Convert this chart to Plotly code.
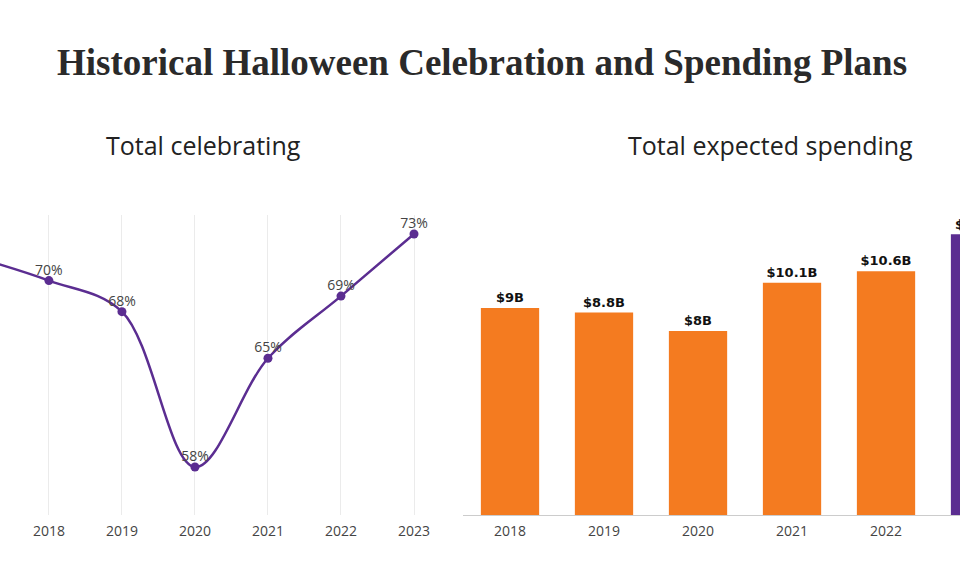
import plotly.graph_objects as go

years_line = [2017, 2018, 2019, 2020, 2021, 2022, 2023]
celebrating = [71.5, 70, 68, 58, 65, 69, 73]
celebrating_labels = ["71.5%", "70%", "68%", "58%", "65%", "69%", "73%"]

years_bar = [2018, 2019, 2020, 2021, 2022, 2023]
spending = [9.0, 8.8, 8.0, 10.1, 10.6, 12.2]
spending_labels = ["$9B", "$8.8B", "$8B", "$10.1B", "$10.6B", "$12.2B"]
bar_colors = ["#f47b20", "#f47b20", "#f47b20", "#f47b20", "#f47b20", "#5b2d91"]

tick_years_left = [2018, 2019, 2020, 2021, 2022, 2023]
tick_years_right = [2018, 2019, 2020, 2021, 2022, 2023]

PURPLE = "#5b2d91"
SANS = "Open Sans"
BAR_FONT = dict(family="DejaVu Sans", size=13, color="#111", weight="bold")

# plot area spans y=215..515 px; paper y for header texts
PLOT_TOP, PLOT_BOT = 215, 515
def py(px):
    return (PLOT_BOT - px) / (PLOT_BOT - PLOT_TOP)

X2_RANGE = [2017.5, 2022.787]

fig = go.Figure()

fig.add_trace(go.Scatter(
    x=years_line, y=celebrating, mode="lines+markers",
    line=dict(color=PURPLE, width=2.5, shape="spline", smoothing=1.0),
    marker=dict(color=PURPLE, size=9),
    cliponaxis=False,
    xaxis="x", yaxis="y", hoverinfo="skip", showlegend=False,
))
# labels only for the years within the visible window
fig.add_trace(go.Scatter(
    x=years_line[1:], y=celebrating[1:], mode="markers+text",
    marker=dict(color=PURPLE, size=2, opacity=0),
    text=celebrating_labels[1:], textposition="top center",
    textfont=dict(family=SANS, size=14, color="#444"),
    cliponaxis=False,
    xaxis="x", yaxis="y", hoverinfo="skip", showlegend=False,
))

fig.add_trace(go.Bar(
    x=years_bar, y=spending, width=0.62,
    marker=dict(color=bar_colors, line=dict(width=0)),
    text=spending_labels, textposition="outside", constraintext="none",
    textfont=BAR_FONT,
    cliponaxis=False,
    xaxis="x2", yaxis="y2", hoverinfo="skip", showlegend=False,
))

# label of the last bar, which sits past the right edge of the axis window
last_frac = (years_bar[-1] - X2_RANGE[0]) / (X2_RANGE[1] - X2_RANGE[0])

fig.update_layout(
    width=960, height=578,
    margin=dict(l=0, r=0, t=PLOT_TOP, b=578 - PLOT_BOT),
    paper_bgcolor="white", plot_bgcolor="white",
    xaxis=dict(domain=[0, 0.46], range=[2017.33, 2023.378],
               tickmode="array", tickvals=tick_years_left,
               ticktext=[str(y) for y in tick_years_left],
               showgrid=True, gridcolor="#ebebeb", gridwidth=1,
               zeroline=False, showline=False, ticks="",
               ticklabelstandoff=6,
               tickfont=dict(family=SANS, size=14, color="#444")),
    yaxis=dict(domain=[0, 1], range=[54.91, 74.22], visible=False),
    xaxis2=dict(domain=[0.4823, 1], range=X2_RANGE,
                tickmode="array", tickvals=tick_years_right,
                ticktext=[str(y) for y in tick_years_right],
                showgrid=False, zeroline=False, showline=True,
                linecolor="#cccccc", linewidth=1, ticks="",
                ticklabelstandoff=3,
                tickfont=dict(family=SANS, size=14, color="#444"),
                anchor="y2"),
    yaxis2=dict(domain=[0, 1], range=[0, 13.04], visible=False, anchor="x2"),
    annotations=[
        dict(text="<b>Historical Halloween Celebration and Spending Plans</b>",
             x=482 / 960, y=py(62), xref="paper", yref="paper",
             yanchor="middle", xanchor="center", showarrow=False,
             font=dict(family="Liberation Serif", size=37, color="#2a2a2a")),
        dict(text="Total celebrating", x=203 / 960, y=py(145),
             xref="paper", yref="paper", xanchor="center", yanchor="middle",
             showarrow=False,
             font=dict(family=SANS, size=25, color="#222")),
        dict(text="Total expected spending", x=770 / 960, y=py(145),
             xref="paper", yref="paper", xanchor="center", yanchor="middle",
             showarrow=False,
             font=dict(family=SANS, size=25, color="#222")),
        dict(text="<b>" + spending_labels[-1] + "</b>", x=last_frac, xref="x2 domain",
             y=spending[-1], yref="y2", xanchor="center", yanchor="bottom",
             yshift=0, showarrow=False, font=BAR_FONT),
    ],
)

fig.write_html("out.html")
